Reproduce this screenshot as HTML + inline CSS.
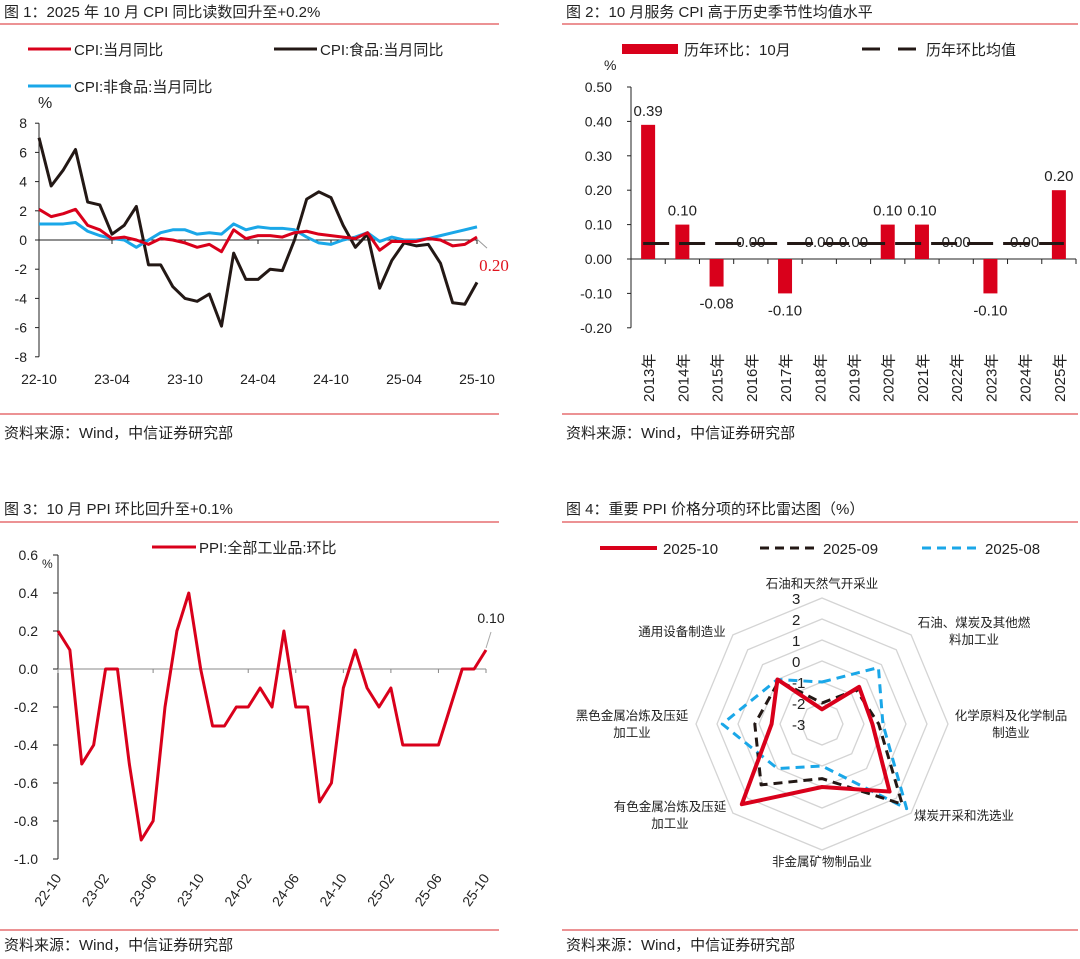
<!DOCTYPE html>
<html><head><meta charset="utf-8"><style>
body{margin:0;background:#fff;}
svg{display:block;font-family:"Liberation Sans","Noto Sans CJK SC",sans-serif;}
</style></head><body>
<svg id="s" width="1080" height="959" viewBox="0 0 1080 959">
<g stroke="#d9252a" stroke-width="1">
<line x1="0" y1="24" x2="499" y2="24"/><line x1="0" y1="414" x2="499" y2="414"/>
<line x1="0" y1="522" x2="499" y2="522"/><line x1="0" y1="930" x2="499" y2="930"/>
<line x1="562" y1="24" x2="1078" y2="24"/><line x1="562" y1="414" x2="1078" y2="414"/>
<line x1="562" y1="522" x2="1078" y2="522"/><line x1="562" y1="930" x2="1078" y2="930"/>
</g>
<g font-size="15" fill="#222">
<text x="4" y="17">图 1：2025 年 10 月 CPI 同比读数回升至+0.2%</text>
<text x="566" y="17">图 2：10 月服务 CPI 高于历史季节性均值水平</text>
<text x="4" y="514">图 3：10 月 PPI 环比回升至+0.1%</text>
<text x="566" y="514">图 4：重要 PPI 价格分项的环比雷达图（%）</text>
<text x="4" y="438">资料来源：Wind，中信证券研究部</text>
<text x="566" y="438">资料来源：Wind，中信证券研究部</text>
<text x="4" y="950">资料来源：Wind，中信证券研究部</text>
<text x="566" y="950">资料来源：Wind，中信证券研究部</text>
</g>
<g id="c1"></g>
<g id="c2"></g>
<g id="c3"></g>
<g id="c4"></g>
</svg>
<script>
const cpi=[2.1,1.6,1.8,2.1,1.0,0.7,0.1,0.2,0.0,-0.3,0.1,0.0,-0.2,-0.5,-0.3,-0.8,0.7,0.1,0.3,0.3,0.2,0.5,0.6,0.4,0.3,0.2,0.1,0.5,-0.7,-0.1,-0.1,-0.1,0.1,0.0,-0.4,-0.3,0.2];
const food=[7.0,3.7,4.8,6.2,2.6,2.4,0.4,1.0,2.3,-1.7,-1.7,-3.2,-4.0,-4.2,-3.7,-5.9,-0.9,-2.7,-2.7,-2.0,-2.1,0.0,2.8,3.3,2.9,1.0,-0.5,0.4,-3.3,-1.4,-0.2,-0.4,-0.3,-1.6,-4.3,-4.4,-2.9];
const nonfood=[1.1,1.1,1.1,1.2,0.6,0.3,0.1,0.0,-0.5,0.0,0.5,0.7,0.7,0.4,0.5,0.4,1.1,0.7,0.9,0.8,0.8,0.7,0.2,-0.2,-0.3,0.0,0.2,0.5,-0.1,0.2,0.0,0.0,0.1,0.3,0.5,0.7,0.9];
const c1Ticks=[8,6,4,2,0,-2,-4,-6,-8];
const c1XLabels=["22-10","23-04","23-10","24-04","24-10","25-04","25-10"];
const years=["2013年","2014年","2015年","2016年","2017年","2018年","2019年","2020年","2021年","2022年","2023年","2024年","2025年"];
const octVals=[0.39,0.10,-0.08,0.00,-0.10,0.00,0.00,0.10,0.10,0.00,-0.10,0.00,0.20];
const octAvg=[0.045];
const c2Ticks=[0.5,0.4,0.3,0.2,0.1,0,-0.1,-0.2];
const ppi=[0.2,0.1,-0.5,-0.4,0.0,0.0,-0.5,-0.9,-0.8,-0.2,0.2,0.4,0.0,-0.3,-0.3,-0.2,-0.2,-0.1,-0.2,0.2,-0.2,-0.2,-0.7,-0.6,-0.1,0.1,-0.1,-0.2,-0.1,-0.4,-0.4,-0.4,-0.4,-0.2,0.0,0.0,0.1];
const c3Ticks=[0.6,0.4,0.2,0.0,-0.2,-0.4,-0.6,-0.8,-1.0];
const c3XLabels=["22-10","23-02","23-06","23-10","24-02","24-06","24-10","25-02","25-06","25-10"];
const radarAxes=["石油和天然气开采业","石油、煤炭及其他燃料加工业","化学原料及化学制品制造业","煤炭开采和洗选业","非金属矿物制品业","有色金属冶炼及压延加工业","黑色金属冶炼及压延加工业","通用设备制造业"];
const r2510=[-2.3,-0.5,-0.6,1.55,0.0,2.4,-0.6,0.0];
const r2509=[-2.0,-0.7,-0.3,2.4,-0.4,1.1,0.2,-0.1];
const r2508=[-1.0,0.8,-0.1,2.7,-1.0,0.0,1.75,0.0];
const radarTicks=[3,2,1,0,-1,-2,-3];

const NS="http://www.w3.org/2000/svg";
function mk(p,tag,at,txt){const e=document.createElementNS(NS,tag);for(const k in at)e.setAttribute(k,at[k]);if(txt!==undefined)e.textContent=txt;p.appendChild(e);return e;}
function fmt(v,d){return v.toFixed(d);}

// Chart 1
(function(){
const g=document.getElementById('c1');
const x0=39,x1=477,y=v=>240-v*14.6,x=i=>x0+i*(x1-x0)/36;
// legend
const lg=[["#d9001b","CPI:当月同比",28,50],["#231815","CPI:食品:当月同比",274,50],["#1aa7e8","CPI:非食品:当月同比",28,87]];
lg.forEach(l=>{const e=mk(g,'g',{});


mk(e,'line',{x1:l[2],x2:l[2]+43,y1:l[3]-1,y2:l[3]-1,stroke:l[0],'stroke-width':3});
mk(e,'text',{x:l[2]+46,y:l[3]+5,'font-size':15,fill:'#222'},l[1]);});
mk(g,'text',{x:38,y:108,'font-size':16,fill:'#222'},'%');
mk(g,'line',{x1:x0,x2:x0,y1:y(8),y2:y(-8),stroke:'#222'});
mk(g,'line',{x1:x0,x2:x1,y1:y(0),y2:y(0),stroke:'#222'});
c1Ticks.forEach(t=>{mk(g,'line',{x1:x0-4,x2:x0,y1:y(t),y2:y(t),stroke:'#222'});
const e=mk(g,'text',{x:x0-12,y:y(t)+5,'font-size':14,'text-anchor':'end',fill:'#222'},String(t));

});
c1XLabels.forEach((l,i)=>{mk(g,'line',{x1:x(i*6),x2:x(i*6),y1:y(0),y2:y(0)+4,stroke:'#222'});
const e=mk(g,'text',{x:x(i*6),y:384,'font-size':14,'text-anchor':'middle',fill:'#222'},l);

});
[[food,'#231815','food-line'],[nonfood,'#1aa7e8','nonfood-line'],[cpi,'#d9001b','cpi-line']].forEach(s=>{
const e=mk(g,'polyline',{points:s[0].map((v,i)=>x(i)+','+y(v)).join(' '),fill:'none',stroke:s[1],'stroke-width':3,'stroke-linejoin':'round'});

});
const lv=cpi[cpi.length-1];
mk(g,'line',{x1:x(36),y1:y(lv)+2,x2:x(36)+10,y2:y(lv)+11,stroke:'#999'});
const lb=mk(g,'text',{x:x(36)+17,y:271,'font-size':17,'text-anchor':'middle',fill:'#e0141e','font-family':'Liberation Serif,serif'},fmt(lv,2));


})();

// Chart 2
(function(){
const g=document.getElementById('c2');
const x0=631,x1=1076,bw=(x1-x0)/13,y=v=>259-v*344;
const e1=mk(g,'g',{});


mk(e1,'rect',{x:622,y:44,width:56,height:10,fill:'#d9001b'});
mk(e1,'text',{x:684,y:55,'font-size':15,fill:'#222'},'历年环比：10月');
const e2=mk(g,'g',{});


mk(e2,'line',{x1:862,x2:920,y1:49,y2:49,stroke:'#231815','stroke-width':3,'stroke-dasharray':'18 18'});
mk(e2,'text',{x:926,y:55,'font-size':15,fill:'#222'},'历年环比均值');
mk(g,'text',{x:604,y:70,'font-size':14,fill:'#222'},'%');
mk(g,'line',{x1:x0,x2:x0,y1:y(0.5),y2:y(-0.2),stroke:'#222'});
c2Ticks.forEach(t=>{mk(g,'line',{x1:x0-4,x2:x0,y1:y(t),y2:y(t),stroke:'#222'});
const e=mk(g,'text',{x:612,y:y(t)+5,'font-size':14,'text-anchor':'end',fill:'#222'},fmt(t,2));

});
mk(g,'line',{x1:x0,x2:x1,y1:y(0),y2:y(0),stroke:'#222'});
octVals.forEach((v,i)=>{const cx=x0+bw*(i+0.5);
mk(g,'line',{x1:x0+bw*(i+1),x2:x0+bw*(i+1),y1:y(0),y2:y(0)+5,stroke:'#222'});
const r=mk(g,'rect',{x:cx-7,y:Math.min(y(v),y(0)),width:14,height:Math.abs(y(v)-y(0)),fill:'#d9001b'});


const ly=v>0?y(v)-9:(v<0?y(v)+22:y(0)-12);
const t=mk(g,'text',{x:cx,y:ly,'font-size':15,'text-anchor':'middle',fill:'#222'},fmt(v,2));


const yl=mk(g,'text',{transform:`translate(${cx+6},402) rotate(-90)`,'font-size':15,fill:'#222'},years[i]);

});
const av=mk(g,'line',{x1:x0+bw*0.5-5,x2:x0+bw*12.5+5,y1:y(octAvg[0]),y2:y(octAvg[0]),stroke:'#231815','stroke-width':3,'stroke-dasharray':'26 10'});


})();

// Chart 3
(function(){
const g=document.getElementById('c3');
const x0=58,x1=486,y=v=>669-v*190,x=i=>x0+i*(x1-x0)/36;
const le=mk(g,'g',{});


mk(le,'line',{x1:152,x2:196,y1:547,y2:547,stroke:'#d9001b','stroke-width':3});
mk(le,'text',{x:199,y:553,'font-size':15,fill:'#222'},'PPI:全部工业品:环比');
mk(g,'text',{x:42,y:568,'font-size':12,fill:'#222'},'%');
mk(g,'line',{x1:x0,x2:x0,y1:y(0.6),y2:y(-1.0),stroke:'#222'});
c3Ticks.forEach(t=>{mk(g,'line',{x1:x0-5,x2:x0,y1:y(t),y2:y(t),stroke:'#222'});
const e=mk(g,'text',{x:38,y:y(t)+5,'font-size':14,'text-anchor':'end',fill:'#222'},fmt(t,1));

});
mk(g,'line',{x1:x0,x2:x1,y1:y(0),y2:y(0),stroke:'#888'});
c3XLabels.forEach((l,i)=>{const xx=x(i*4);mk(g,'line',{x1:xx,x2:xx,y1:y(0),y2:y(0)+4,stroke:'#888'});
const e=mk(g,'text',{transform:`translate(${xx+4},878) rotate(-55)`,'font-size':14,'text-anchor':'end',fill:'#222'},l);

});
const p=mk(g,'polyline',{points:ppi.map((v,i)=>x(i)+','+y(v)).join(' '),fill:'none',stroke:'#d9001b','stroke-width':3,'stroke-linejoin':'round'});


const lv=ppi[ppi.length-1];
mk(g,'line',{x1:x(36),y1:y(lv)-2,x2:x(36)+5,y2:y(lv)-18,stroke:'#aaa'});
const lb=mk(g,'text',{x:x(36)+5,y:623,'font-size':14,'text-anchor':'middle',fill:'#222'},fmt(lv,2));


})();

// Chart 4
(function(){
const g=document.getElementById('c4');
const cx=822,cy=724,k=21,r=v=>(v+3)*k;
const pt=(i,v)=>{const a=-Math.PI/2+i*Math.PI/4;return [cx+r(v)*Math.cos(a),cy+r(v)*Math.sin(a)];};
const lg=[["#d9001b","2025-10",600,'',4],["#231815","2025-09",760,'9 6',3],["#1aa7e8","2025-08",922,'9 6',3]];
lg.forEach(l=>{const e=mk(g,'g',{});


mk(e,'line',{x1:l[2],x2:l[2]+57,y1:548,y2:548,stroke:l[0],'stroke-width':l[4],'stroke-dasharray':l[3]});
mk(e,'text',{x:l[2]+63,y:554,'font-size':15,fill:'#222'},l[1]);});
radarTicks.forEach(t=>{if(t===-3)return;
const pts=[];for(let i=0;i<8;i++)pts.push(pt(i,t).join(','));
mk(g,'polygon',{points:pts.join(' '),fill:'none',stroke:'#d4d4d4','stroke-width':1.3});});
radarTicks.forEach(t=>{const e=mk(g,'text',{x:cx-30,y:cy-r(t)+6,'font-size':15,fill:'#222'},String(t));

});
const lab=[[["石油和天然气开采业"],822,588,'middle'],[["石油、煤炭及其他燃","料加工业"],974,627,'middle'],[["化学原料及化学制品","制造业"],1011,720,'middle'],[["煤炭开采和洗选业"],914,820,'start'],[["非金属矿物制品业"],822,866,'middle'],[["有色金属冶炼及压延","加工业"],670,811,'middle'],[["黑色金属冶炼及压延","加工业"],632,720,'middle'],[["通用设备制造业"],682,636,'middle']];
lab.forEach(l=>{const e=mk(g,'text',{x:l[1],y:l[2],'font-size':12.5,'text-anchor':l[3],fill:'#222'});


l[0].forEach((s,j)=>mk(e,'tspan',{x:l[1],dy:j?17:0},s));});
[[r2508,'#1aa7e8','9 6',3,'series-2025-08'],[r2509,'#231815','9 6',3,'series-2025-09'],[r2510,'#d9001b','',4,'series-2025-10']].forEach(s=>{
const e=mk(g,'polygon',{points:s[0].map((v,i)=>pt(i,v).join(',')).join(' '),fill:'none',stroke:s[1],'stroke-width':s[3],'stroke-dasharray':s[2],'stroke-linejoin':'round'});

});
})();
</script>
</body></html>
